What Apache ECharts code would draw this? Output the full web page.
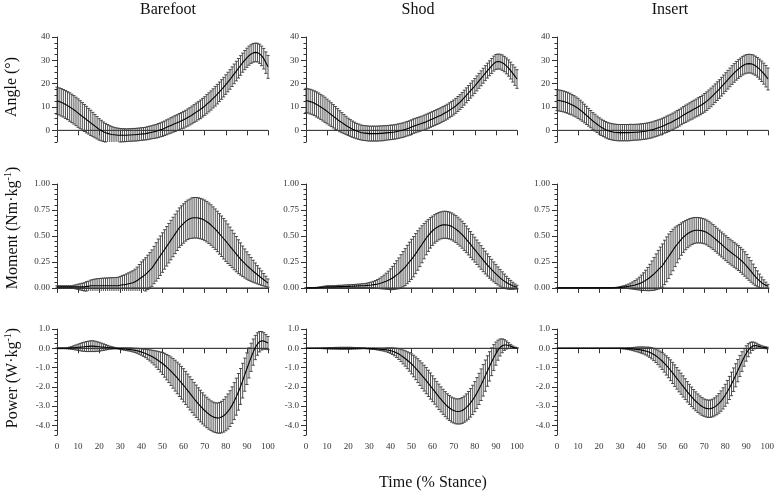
<!DOCTYPE html>
<html><head><meta charset="utf-8">
<script src="https://cdn.jsdelivr.net/npm/echarts@6/dist/echarts.min.js"></script>
<style>html,body{margin:0;padding:0;background:#fff}#c{width:777px;height:493px}</style>
</head><body><div id="c"></div>
<script>
// ---------------- DATA ----------------
const conditions = ['Barefoot', 'Shod', 'Insert'];
const measures = ['Angle (°)', 'Moment', 'Power'];
const timeTicks = [0,10,20,30,40,50,60,70,80,90,100];
const angleTicks = [0,10,20,30,40];
const momentTicks = [0,0.25,0.5,0.75,1.0];
const powerTicks = [-4,-3,-2,-1,0,1];
const stance = Array.from({length:101}, (_, i) => i); // % stance sample positions

const barefootAngleMean = [12.7,12.4,12.0,11.6,11.1,10.6,10.0,9.4,8.8,8.1,7.4,
 6.7,6.0,5.3,4.6,3.9,3.2,2.5,1.8,1.1,0.4,
 -0.1,-0.6,-1.0,-1.3,-1.6,-1.8,-1.9,-2.0,-2.1,-2.1,
 -2.1,-2.1,-2.1,-2.0,-2.0,-1.9,-1.9,-1.8,-1.7,-1.6,
 -1.5,-1.4,-1.2,-1.0,-0.8,-0.6,-0.4,-0.1,0.2,0.5,
 0.9,1.3,1.7,2.1,2.5,2.9,3.3,3.7,4.1,4.5,
 5.0,5.5,6.0,6.6,7.2,7.8,8.4,9.0,9.7,10.4,
 11.2,12.0,12.8,13.7,14.6,15.5,16.5,17.5,18.5,19.6,
 20.7,21.8,23.0,24.2,25.4,26.6,27.8,29.0,30.1,31.1,
 32.0,32.7,33.2,33.4,33.3,32.8,31.9,30.7,29.0,27.2];
const barefootAngleSD = [5.8,5.8,5.9,5.9,6.0,6.0,6.1,6.1,6.1,6.1,6.1,
 6.0,5.9,5.8,5.7,5.5,5.4,5.2,5.0,4.8,4.6,
 4.4,4.2,4.0,3.8,3.6,3.4,3.2,3.1,3.0,2.9,
 2.8,2.8,2.7,2.7,2.7,2.7,2.7,2.7,2.7,2.7,
 2.7,2.7,2.8,2.8,2.8,2.9,2.9,3.0,3.0,3.1,
 3.1,3.2,3.2,3.3,3.3,3.4,3.4,3.5,3.5,3.6,
 3.6,3.7,3.7,3.8,3.8,3.9,3.9,4.0,4.0,4.0,
 4.1,4.1,4.1,4.1,4.2,4.2,4.2,4.2,4.2,4.2,
 4.2,4.2,4.2,4.2,4.2,4.2,4.2,4.1,4.1,4.1,
 4.1,4.0,4.0,4.0,4.0,4.1,4.2,4.4,4.6,4.9];

const shodAngleMean = [12.8,12.6,12.3,12.0,11.6,11.1,10.6,10.0,9.4,8.8,8.1,
 7.4,6.7,6.0,5.3,4.6,3.9,3.3,2.7,2.1,1.5,
 1.0,0.5,0.1,-0.3,-0.6,-0.9,-1.1,-1.2,-1.3,-1.4,
 -1.4,-1.4,-1.4,-1.4,-1.3,-1.3,-1.2,-1.1,-1.0,-0.9,
 -0.8,-0.7,-0.5,-0.3,-0.1,0.1,0.4,0.7,1.0,1.4,
 1.8,2.1,2.4,2.7,3.0,3.3,3.7,4.1,4.5,4.9,
 5.3,5.7,6.1,6.5,7.0,7.5,8.0,8.6,9.2,9.8,
 10.5,11.3,12.1,13.0,14.0,15.0,16.0,17.0,18.0,19.0,
 20.1,21.2,22.3,23.4,24.5,25.6,26.6,27.6,28.6,29.3,
 29.5,29.4,29.0,28.4,27.6,26.7,25.6,24.4,23.2,22.0];
const shodAngleSD = [5.2,5.2,5.3,5.3,5.3,5.4,5.4,5.4,5.4,5.4,5.3,
 5.2,5.1,5.0,4.9,4.7,4.5,4.3,4.1,3.9,3.7,
 3.6,3.5,3.4,3.3,3.3,3.2,3.2,3.2,3.2,3.2,
 3.2,3.2,3.2,3.2,3.2,3.2,3.2,3.1,3.1,3.1,
 3.1,3.1,3.1,3.1,3.1,3.1,3.1,3.1,3.1,3.1,
 3.1,3.1,3.1,3.1,3.1,3.2,3.2,3.2,3.2,3.2,
 3.2,3.2,3.2,3.2,3.2,3.2,3.2,3.2,3.2,3.2,
 3.2,3.2,3.2,3.2,3.2,3.2,3.2,3.2,3.2,3.2,
 3.2,3.2,3.2,3.2,3.2,3.2,3.2,3.2,3.2,3.2,
 3.2,3.2,3.3,3.3,3.4,3.5,3.6,3.7,3.9,4.0];

const insertAngleMean = [12.9,12.8,12.6,12.4,12.1,11.8,11.4,11.0,10.5,10.0,9.4,
 8.7,8.0,7.2,6.4,5.6,4.8,4.0,3.3,2.6,1.9,
 1.3,0.8,0.3,-0.1,-0.4,-0.6,-0.8,-0.9,-1.0,-1.0,
 -1.0,-1.0,-1.0,-1.0,-0.9,-0.9,-0.8,-0.8,-0.7,-0.6,
 -0.5,-0.4,-0.2,0.0,0.2,0.5,0.8,1.1,1.4,1.8,
 2.2,2.6,3.0,3.4,3.9,4.4,4.9,5.4,6.0,6.6,
 7.1,7.6,8.1,8.6,9.1,9.6,10.1,10.6,11.2,11.8,
 12.5,13.3,14.1,15.0,15.9,16.8,17.7,18.7,19.7,20.7,
 21.7,22.7,23.7,24.6,25.5,26.3,27.0,27.7,28.2,28.5,
 28.6,28.5,28.2,27.7,27.0,26.2,25.3,24.3,23.2,22.0];
const insertAngleSD = [4.5,4.5,4.5,4.5,4.5,4.5,4.5,4.4,4.4,4.3,4.3,
 4.2,4.1,4.0,3.9,3.8,3.7,3.6,3.6,3.5,3.5,
 3.5,3.5,3.5,3.5,3.5,3.5,3.5,3.5,3.5,3.5,
 3.5,3.5,3.5,3.5,3.5,3.4,3.4,3.4,3.4,3.4,
 3.4,3.4,3.4,3.4,3.4,3.4,3.4,3.4,3.4,3.4,
 3.4,3.5,3.5,3.5,3.5,3.5,3.6,3.6,3.6,3.6,
 3.7,3.7,3.7,3.8,3.8,3.8,3.9,3.9,3.9,4.0,
 4.0,4.0,4.0,4.0,4.0,4.0,4.0,4.0,4.0,4.0,
 4.0,4.0,4.0,4.0,4.0,4.0,4.0,4.0,4.0,4.0,
 4.0,4.0,4.1,4.1,4.2,4.3,4.4,4.5,4.6,4.7];

const barefootMomentMean = [0.01,0.01,0.01,0.01,0.01,0.01,0.01,0.01,0.01,0.01,0.01,
 0.01,0.01,0.01,0.015,0.015,0.02,0.02,0.02,0.02,0.02,
 0.02,0.02,0.02,0.02,0.02,0.02,0.02,0.02,0.02,0.025,
 0.03,0.03,0.035,0.04,0.045,0.05,0.06,0.07,0.085,0.10,
 0.115,0.13,0.15,0.17,0.19,0.22,0.25,0.28,0.31,0.34,
 0.37,0.40,0.43,0.46,0.49,0.52,0.55,0.58,0.60,0.62,
 0.64,0.655,0.665,0.672,0.675,0.675,0.672,0.667,0.66,0.65,
 0.637,0.622,0.605,0.585,0.565,0.543,0.52,0.497,0.473,0.45,
 0.425,0.40,0.375,0.35,0.325,0.30,0.278,0.256,0.235,0.215,
 0.196,0.178,0.16,0.143,0.126,0.11,0.094,0.078,0.062,0.046];
const barefootMomentSD = [0.01,0.01,0.01,0.01,0.01,0.01,0.01,0.01,0.015,0.02,0.025,
 0.03,0.035,0.04,0.045,0.05,0.055,0.06,0.065,0.068,0.07,
 0.072,0.074,0.075,0.076,0.077,0.078,0.079,0.08,0.082,0.085,
 0.09,0.095,0.10,0.105,0.11,0.115,0.12,0.13,0.14,0.15,
 0.155,0.16,0.165,0.17,0.175,0.18,0.185,0.19,0.19,0.19,
 0.19,0.19,0.19,0.19,0.19,0.19,0.19,0.19,0.19,0.19,
 0.19,0.19,0.19,0.195,0.195,0.195,0.195,0.195,0.195,0.195,
 0.195,0.195,0.195,0.195,0.195,0.195,0.195,0.195,0.195,0.195,
 0.19,0.185,0.18,0.175,0.17,0.163,0.155,0.147,0.14,0.132,
 0.124,0.115,0.106,0.097,0.088,0.079,0.07,0.06,0.05,0.04];

const shodMomentMean = [0,0,0,0,0,0,0.002,0.004,0.006,0.008,0.01,
 0.01,0.01,0.01,0.01,0.012,0.012,0.012,0.014,0.014,0.015,
 0.015,0.016,0.017,0.018,0.019,0.02,0.021,0.022,0.024,0.026,
 0.028,0.031,0.034,0.038,0.043,0.049,0.056,0.064,0.073,0.083,
 0.095,0.11,0.125,0.14,0.16,0.18,0.2,0.225,0.25,0.275,
 0.30,0.33,0.36,0.39,0.42,0.45,0.48,0.505,0.53,0.55,
 0.568,0.582,0.594,0.602,0.607,0.608,0.605,0.6,0.592,0.58,
 0.566,0.55,0.532,0.512,0.49,0.467,0.443,0.418,0.393,0.368,
 0.343,0.318,0.293,0.268,0.244,0.22,0.197,0.175,0.154,0.134,
 0.115,0.097,0.08,0.065,0.051,0.039,0.029,0.02,0.013,0.008];
const shodMomentSD = [0,0,0.002,0.003,0.004,0.005,0.006,0.007,0.008,0.009,0.01,
 0.01,0.011,0.011,0.012,0.012,0.013,0.013,0.014,0.014,0.015,
 0.015,0.016,0.016,0.017,0.017,0.018,0.019,0.02,0.022,0.025,
 0.028,0.032,0.037,0.043,0.05,0.058,0.067,0.077,0.088,0.1,
 0.112,0.124,0.136,0.148,0.16,0.17,0.178,0.185,0.19,0.193,
 0.194,0.193,0.19,0.185,0.178,0.17,0.162,0.154,0.147,0.141,
 0.137,0.134,0.132,0.13,0.13,0.13,0.13,0.13,0.13,0.13,
 0.13,0.13,0.13,0.13,0.13,0.128,0.126,0.124,0.122,0.12,
 0.118,0.116,0.114,0.112,0.11,0.107,0.104,0.1,0.096,0.092,
 0.087,0.081,0.075,0.068,0.06,0.052,0.043,0.034,0.025,0.017];

const insertMomentMean = [0,0,0,0,0,0,0,0,0,0,0,
 0,0,0,0,0,0,0,0,0,0,
 0,0,0,0,0,0,0.001,0.002,0.003,0.005,
 0.007,0.009,0.012,0.015,0.019,0.023,0.028,0.034,0.041,0.05,
 0.06,0.072,0.085,0.1,0.117,0.135,0.155,0.175,0.195,0.215,
 0.245,0.275,0.305,0.335,0.365,0.395,0.42,0.445,0.47,0.49,
 0.508,0.523,0.535,0.545,0.552,0.555,0.555,0.553,0.549,0.543,
 0.533,0.52,0.505,0.489,0.472,0.454,0.436,0.418,0.4,0.382,
 0.365,0.349,0.333,0.318,0.303,0.287,0.27,0.251,0.23,0.207,
 0.183,0.158,0.133,0.109,0.087,0.067,0.05,0.036,0.025,0.016];
const insertMomentSD = [0,0,0,0,0,0,0,0,0,0,0,
 0,0,0,0,0,0,0,0,0,0,
 0,0,0,0,0,0.001,0.002,0.003,0.005,0.007,
 0.01,0.013,0.017,0.022,0.028,0.035,0.043,0.052,0.062,0.073,
 0.085,0.098,0.112,0.127,0.142,0.158,0.172,0.186,0.198,0.208,
 0.214,0.216,0.214,0.208,0.2,0.19,0.178,0.166,0.156,0.148,
 0.141,0.136,0.132,0.128,0.125,0.123,0.122,0.121,0.12,0.12,
 0.12,0.12,0.12,0.12,0.12,0.12,0.12,0.12,0.12,0.12,
 0.12,0.12,0.12,0.12,0.12,0.12,0.12,0.12,0.118,0.115,
 0.11,0.104,0.096,0.087,0.077,0.066,0.054,0.042,0.03,0.018];

const barefootPowerMean = [0,0,0,0,0,0,0.01,0.02,0.03,0.04,0.05,
 0.06,0.07,0.08,0.09,0.1,0.11,0.11,0.1,0.09,0.08,
 0.07,0.06,0.05,0.04,0.03,0.02,0.01,0,-0.01,-0.02,
 -0.03,-0.04,-0.05,-0.06,-0.07,-0.09,-0.11,-0.13,-0.16,-0.19,
 -0.23,-0.27,-0.32,-0.37,-0.43,-0.49,-0.56,-0.63,-0.71,-0.79,
 -0.88,-0.98,-1.08,-1.19,-1.3,-1.42,-1.54,-1.66,-1.79,-1.92,
 -2.06,-2.2,-2.34,-2.48,-2.62,-2.75,-2.88,-3.0,-3.12,-3.23,
 -3.33,-3.42,-3.5,-3.56,-3.6,-3.62,-3.61,-3.57,-3.5,-3.4,
 -3.28,-3.13,-2.95,-2.74,-2.51,-2.26,-1.98,-1.68,-1.37,-1.06,
 -0.76,-0.47,-0.2,0.04,0.22,0.34,0.39,0.38,0.33,0.27];
const barefootPowerSD = [0.02,0.02,0.02,0.02,0.02,0.03,0.05,0.07,0.1,0.13,0.16,
 0.19,0.22,0.24,0.26,0.27,0.28,0.28,0.27,0.25,0.23,
 0.2,0.17,0.14,0.11,0.08,0.06,0.04,0.03,0.03,0.04,
 0.05,0.06,0.07,0.08,0.09,0.1,0.11,0.13,0.15,0.17,
 0.19,0.22,0.25,0.29,0.33,0.37,0.42,0.47,0.52,0.57,
 0.62,0.66,0.7,0.74,0.77,0.8,0.82,0.84,0.85,0.86,
 0.86,0.86,0.86,0.86,0.85,0.84,0.83,0.82,0.81,0.8,
 0.79,0.78,0.77,0.77,0.77,0.78,0.8,0.82,0.85,0.88,
 0.91,0.93,0.95,0.96,0.96,0.95,0.93,0.9,0.86,0.82,
 0.78,0.73,0.68,0.63,0.58,0.53,0.48,0.43,0.38,0.34];

const shodPowerMean = [0,0,0,0,0,0,0,0,0,0,0,
 0,0,0,0,0,0,0,0,0,0,
 0,0,0,0,0,0,0,0,-0.01,-0.01,
 -0.02,-0.02,-0.03,-0.04,-0.05,-0.06,-0.07,-0.08,-0.1,-0.12,
 -0.15,-0.19,-0.24,-0.3,-0.37,-0.45,-0.53,-0.62,-0.71,-0.81,
 -0.92,-1.04,-1.16,-1.29,-1.42,-1.55,-1.68,-1.82,-1.96,-2.1,
 -2.24,-2.38,-2.52,-2.65,-2.78,-2.9,-3.01,-3.1,-3.18,-3.23,
 -3.27,-3.28,-3.27,-3.23,-3.16,-3.07,-2.96,-2.83,-2.68,-2.51,
 -2.32,-2.11,-1.89,-1.66,-1.42,-1.18,-0.94,-0.7,-0.48,-0.28,
 -0.1,0.04,0.13,0.17,0.17,0.14,0.1,0.06,0.03,0.01];
const shodPowerSD = [0,0,0,0,0,0.005,0.01,0.015,0.02,0.025,0.03,
 0.035,0.04,0.04,0.045,0.045,0.05,0.05,0.05,0.05,0.05,
 0.05,0.045,0.04,0.035,0.03,0.025,0.02,0.02,0.02,0.025,
 0.03,0.035,0.04,0.05,0.06,0.07,0.08,0.1,0.12,0.14,
 0.17,0.2,0.24,0.28,0.32,0.36,0.4,0.44,0.48,0.52,
 0.56,0.59,0.62,0.64,0.66,0.67,0.68,0.68,0.68,0.67,
 0.66,0.66,0.66,0.65,0.65,0.65,0.65,0.65,0.65,0.65,
 0.65,0.65,0.66,0.67,0.68,0.7,0.72,0.74,0.76,0.78,
 0.8,0.81,0.82,0.82,0.81,0.79,0.76,0.72,0.67,0.6,
 0.52,0.44,0.36,0.28,0.21,0.15,0.1,0.06,0.03,0.02];

const insertPowerMean = [0,0,0,0,0,0,0,0,0,0,0,
 0,0,0,0,0,0,0,0,0,0,
 0,0,0,0,0,0,0,0,0,0,
 -0.005,-0.01,-0.015,-0.02,-0.03,-0.04,-0.05,-0.06,-0.07,-0.09,
 -0.11,-0.14,-0.17,-0.21,-0.26,-0.32,-0.39,-0.47,-0.56,-0.66,
 -0.77,-0.89,-1.01,-1.14,-1.28,-1.42,-1.56,-1.7,-1.84,-1.98,
 -2.12,-2.26,-2.39,-2.52,-2.64,-2.75,-2.85,-2.94,-3.02,-3.08,
 -3.12,-3.14,-3.13,-3.1,-3.04,-2.96,-2.86,-2.74,-2.6,-2.44,
 -2.26,-2.06,-1.85,-1.63,-1.4,-1.16,-0.92,-0.69,-0.47,-0.27,
 -0.1,0.03,0.11,0.14,0.13,0.1,0.07,0.05,0.03,0.02];
const insertPowerSD = [0,0,0,0,0,0,0,0,0,0,0,
 0,0,0,0,0,0,0,0,0,0,
 0,0,0,0,0,0,0,0.005,0.01,0.015,
 0.02,0.03,0.04,0.05,0.06,0.08,0.1,0.12,0.14,0.16,
 0.18,0.2,0.23,0.26,0.29,0.32,0.35,0.38,0.41,0.44,
 0.47,0.5,0.52,0.54,0.55,0.56,0.56,0.56,0.55,0.55,
 0.54,0.53,0.52,0.51,0.5,0.49,0.48,0.47,0.46,0.45,
 0.45,0.45,0.45,0.46,0.47,0.49,0.51,0.53,0.55,0.57,
 0.59,0.6,0.61,0.61,0.6,0.58,0.55,0.51,0.46,0.4,
 0.34,0.28,0.22,0.17,0.13,0.1,0.08,0.06,0.05,0.04];

// ---------------- LAYOUT ----------------
const panels = [
  [barefootAngleMean, barefootAngleSD], [shodAngleMean, shodAngleSD], [insertAngleMean, insertAngleSD],
  [barefootMomentMean, barefootMomentSD], [shodMomentMean, shodMomentSD], [insertMomentMean, insertMomentSD],
  [barefootPowerMean, barefootPowerSD], [shodPowerMean, shodPowerSD], [insertPowerMean, insertPowerSD]
];
const colLeft = [57, 306, 557];
const colWidth = 211;
const rowCfg = [
  {top:37, height:105, min:-5, max:40, minor:2.5, ticks:angleTicks, dec:0},
  {top:184, height:107, min:-0.03, max:1, minor:0.05, ticks:momentTicks, dec:2},
  {top:329, height:106, min:-4.5, max:1, minor:0.25, ticks:powerTicks, dec:1}
];
const SERIF = 'Liberation Serif';
const AX = '#333';

function minorTickValues(rc) {
  const out = [];
  const k0 = Math.ceil(rc.min / rc.minor - 1e-9), k1 = Math.floor(rc.max / rc.minor + 1e-9);
  for (let k = k0; k <= k1; k++) out.push(+(k * rc.minor).toFixed(6));
  return out;
}

const grid = [], xAxis = [], yAxis = [], series = [];
function makeRender(ymin, ymax) {
  return function (params, api) {
    const x = api.value(0), m = api.value(1), s = api.value(2);
    const hi = m + s, lo = m - s;
    const top = api.coord([x, Math.min(hi, ymax)]);
    const bot = api.coord([x, Math.max(lo, ymin)]);
    const st = {stroke:'#3a3a3a', lineWidth:0.9};
    const cw = 1.6;
    const ch = [{type:'line', shape:{x1:top[0], y1:top[1], x2:bot[0], y2:bot[1]}, style:st}];
    if (hi <= ymax) ch.push({type:'line', shape:{x1:top[0]-cw, y1:top[1], x2:top[0]+cw, y2:top[1]}, style:st});
    if (lo >= ymin) ch.push({type:'line', shape:{x1:bot[0]-cw, y1:bot[1], x2:bot[0]+cw, y2:bot[1]}, style:st});
    return {type:'group', children: ch};
  };
}

for (let r = 0; r < 3; r++) {
  const rc = rowCfg[r];
  for (let c = 0; c < 3; c++) {
    const g = r * 3 + c;
    grid.push({left: colLeft[c], top: rc.top, width: colWidth, height: rc.height});
    xAxis.push({
      type:'value', gridIndex:g, min:0, max:100, interval:10,
      axisLine:{lineStyle:{color:AX, width:1}},
      axisTick:{length:5, lineStyle:{color:AX}},
      axisLabel:{show: r === 2, fontFamily:SERIF, fontSize:9, color:'#333', margin:7,
                 customValues: timeTicks},
      splitLine:{show:false}
    });
    // main y axis: minor ticks + labels
    yAxis.push({
      type:'value', gridIndex:g, position:'left', min:rc.min, max:rc.max,
      axisLine:{show:true, lineStyle:{color:AX, width:1}},
      axisTick:{show:true, length:2.5, lineStyle:{color:AX}, customValues: minorTickValues(rc)},
      axisLabel:{fontFamily:SERIF, fontSize:9, color:'#333', margin:7,
                 customValues: rc.ticks, formatter: (v) => Number(v).toFixed(rc.dec)},
      splitLine:{show:false}
    });
    // overlay y axis: major ticks
    yAxis.push({
      type:'value', gridIndex:g, position:'left', min:rc.min, max:rc.max,
      axisLine:{show:false},
      axisTick:{show:true, length:5, lineStyle:{color:AX}, customValues: rc.ticks},
      axisLabel:{show:false},
      splitLine:{show:false}
    });
    const [mean, sd] = panels[g];
    series.push({
      type:'line', xAxisIndex:g, yAxisIndex:2*g, data:[[0,0],[100,0]],
      symbol:'none', silent:true, lineStyle:{color:'#444', width:1}, z:1
    });
    series.push({
      type:'custom', xAxisIndex:g, yAxisIndex:2*g,
      data: stance.map((x, i) => [x, mean[i], sd[i]]),
      encode:{x:0, y:1}, renderItem: makeRender(rc.min, rc.max), silent:true, z:2
    });
    series.push({
      type:'line', xAxisIndex:g, yAxisIndex:2*g,
      data: stance.map((x, i) => [x, mean[i]]),
      symbol:'none', silent:true, lineStyle:{color:'#000', width:1.1}, z:3
    });
  }
}

const txt = (text, x, y, rot, extra) => Object.assign({
  type:'text', x, y, rotation: rot || 0,
  style: Object.assign({text, fontFamily:SERIF, fontSize:16, fill:'#111',
    textAlign:'center', textVerticalAlign:'middle'}, extra || {})
});
const graphic = [
  txt(conditions[0], 168, 10),
  txt(conditions[1], 418, 10),
  txt(conditions[2], 670, 10),
  txt(measures[0], 12, 87, Math.PI/2),
  txt('{a|Moment (Nm·kg}{s|-1}{a|)}', 12, 228, Math.PI/2, {
    rich:{a:{fontFamily:SERIF, fontSize:16, fill:'#111', lineHeight:18, verticalAlign:'bottom'},
          s:{fontFamily:SERIF, fontSize:10, fill:'#111', lineHeight:18, verticalAlign:'top'}}}),
  txt('{a|Power (W·kg}{s|-1}{a|)}', 12, 378, Math.PI/2, {
    rich:{a:{fontFamily:SERIF, fontSize:16, fill:'#111', lineHeight:18, verticalAlign:'bottom'},
          s:{fontFamily:SERIF, fontSize:10, fill:'#111', lineHeight:18, verticalAlign:'top'}}}),
  txt('Time (% Stance)', 433, 483)
];

const chart = echarts.init(document.getElementById('c'), null, {renderer:'canvas'});
chart.setOption({animation:false, backgroundColor:'#fff', grid, xAxis, yAxis, series, graphic});
</script>
</body></html>
